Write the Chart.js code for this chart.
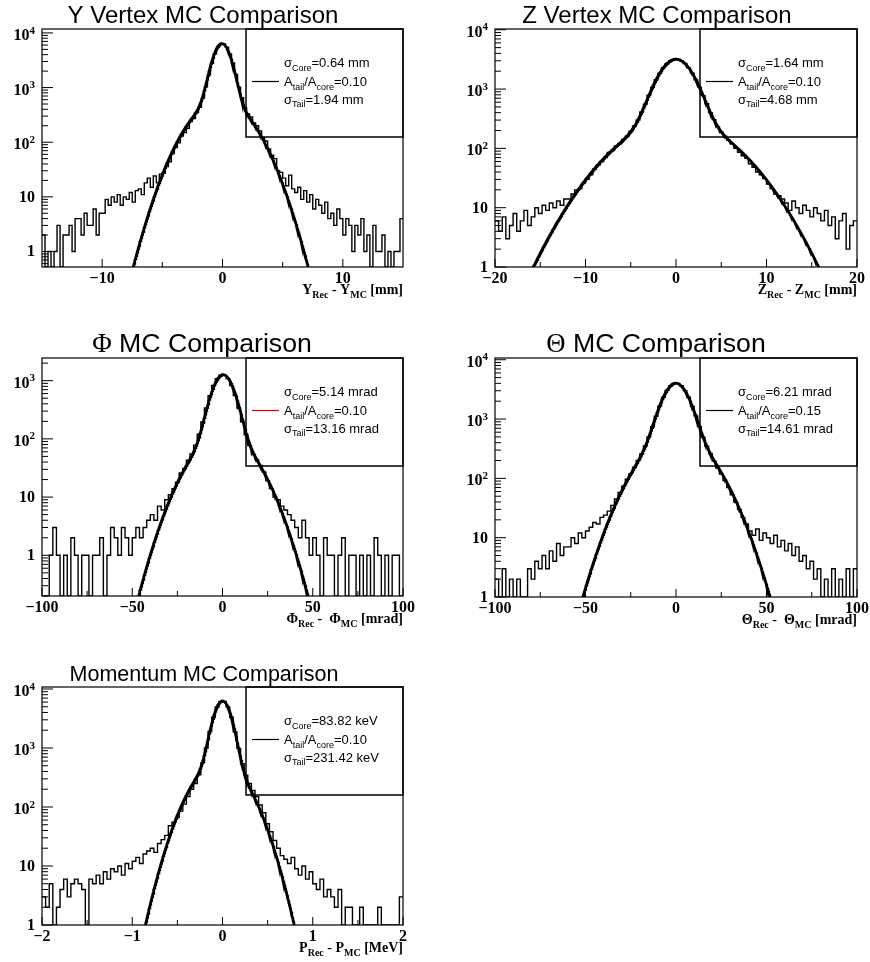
<!DOCTYPE html>
<html lang="en">
<head>
<meta charset="UTF-8">
<title>MC Comparison</title>
<script src="https://cdn.jsdelivr.net/npm/chart.js@4"></script>
<style>
  body { margin: 0; background: #fff; }
  #wrap { position: relative; width: 870px; height: 962px; }
  #wrap canvas { position: absolute; }
</style>
</head>
<body>
<div id="wrap">
  <canvas id="cY" width="435" height="320" style="left:0;top:0"></canvas>
  <canvas id="cZ" width="435" height="320" style="left:435px;top:0"></canvas>
  <canvas id="cPhi" width="435" height="320" style="left:0;top:320px"></canvas>
  <canvas id="cTheta" width="435" height="320" style="left:435px;top:320px"></canvas>
  <canvas id="cP" width="435" height="322" style="left:0;top:640px"></canvas>
</div>
<script>
// residual histograms (counts per bin), bins run left to right over [xLow, xHigh]
// Y vertex: 120 bins of 0.25 mm
const yVtxCounts = [
  2, 0, 1, 0,   1, 3, 0, 2,   2, 3, 1, 4,   4, 2, 5, 3,   3, 6, 2, 5,
  5, 9, 7, 10,  8, 11, 7, 10, 9, 12, 8, 13, 14, 11, 18, 22, 15, 24, 18, 26,
  27, 36, 44, 62, 80, 98, 130, 150, 180, 240, 270, 350, 440, 640, 1030, 1720, 2790, 4170, 5440, 6250,
  6280, 5470, 4130, 2810, 1740, 1020, 650, 430, 330, 290, 225, 200, 160, 120, 105, 75, 58, 50, 30, 28,
  22, 16, 25, 14, 12, 15, 9, 13, 8, 11, 6, 9,  7, 5, 8, 4,  5, 3, 6, 4,
  2, 4, 3, 1,   3, 2, 4, 1,   2, 0, 3, 1,   1, 2, 0, 1,   0, 1, 1, 4
];
// Z vertex: 100 bins of 0.4 mm
const zVtxCounts = [
  6, 4, 7, 3, 5, 8, 4, 6, 9, 5,
  7, 10, 8, 11, 9, 12, 10, 13, 11, 14,
  14, 17, 20, 21, 26, 30, 36, 45, 52, 60,
  70, 85, 92, 110, 120, 142, 160, 195, 240, 300,
  410, 555, 790, 1070, 1445, 1850, 2300, 2680, 3010, 3160,
  3170, 2990, 2700, 2280, 1860, 1430, 1080, 775, 565, 400,
  305, 232, 188, 160, 138, 118, 100, 86, 75, 68,
  55, 48, 40, 36, 31, 25, 21, 17, 16, 14,
  12, 9, 13, 10, 8, 11, 9, 7, 10, 8,
  6, 9, 5, 7, 3, 6, 8, 2, 5, 6
];
// Phi: 100 bins of 2 mrad
const phiCounts = [
  0, 0, 1, 3, 1,  0, 1, 0, 2, 1,  0, 1, 1, 0, 1,  1, 2, 0, 1, 3,
  2, 1, 3, 2, 1,  2, 3, 2, 3, 4,  5, 4, 7, 6, 9,  11, 14, 18, 26, 31,
  43, 55, 78, 120, 195,  340, 552, 826, 1080, 1240,
  1245, 1085, 820, 556, 338,  197, 118, 77, 54, 44,
  35, 27, 19, 14, 10,  9, 7, 6, 5, 4,  3, 2, 4, 2, 1,  2, 1, 0, 2, 1,
  1, 0, 1, 2, 0,  1, 1, 0, 1, 0,  1, 0, 2, 1, 0,  1, 0, 1, 1, 0
];
// Theta: 100 bins of 2 mrad
const thetaCounts = [
  2, 0, 3, 1, 2,  0, 2, 1, 0, 3,  2, 4, 3, 5, 3,  6, 4, 8, 5, 7,
  7, 10, 8, 12, 10,  13, 15, 18, 17, 22,  24, 28, 35, 45, 58,  74, 97, 120, 155, 200,
  258, 352, 500, 740, 1120,  1660, 2320, 3030, 3620, 3990,
  3970, 3640, 3020, 2330, 1650,  1130, 745, 495, 348, 262,
  195, 150, 118, 92, 70,  53, 40, 30, 22, 17,  13, 11, 14, 9, 12,  10, 8, 11, 7, 9,
  6, 8, 5, 7, 4,  5, 3, 4, 2, 3,  1, 2, 0, 3, 1,  2, 1, 3, 0, 3
];
// Momentum: 100 bins of 0.04 MeV
const momCounts = [
  3, 2, 5, 0, 2,  4, 6, 3, 5, 6,  5, 4, 0, 6, 5,  7, 5, 8, 6, 9,
  8, 10, 7, 11, 9,  12, 14, 11, 16, 18,  20, 17, 24, 28, 33,  48, 55, 66, 85, 112,
  150, 200, 250, 350, 560,  1000, 1900, 3310, 4950, 6080,
  6120, 4970, 3290, 1870, 985,  540, 345, 250, 190, 150,
  108, 80, 52, 38, 27,  20, 15, 13, 11, 14,  9, 7, 10, 6, 8,  5, 4, 6, 3, 4,
  3, 2, 4, 1, 2,  2, 1, 0, 2, 1,  1, 0, 1, 2, 0,  1, 0, 0, 1, 3
];

const histCounts = [yVtxCounts, zVtxCounts, phiCounts, thetaCounts, momCounts];
const xLow  = [-15, -20, -100, -100, -2];
const xHigh = [15, 20, 100, 100, 2];
const yMin  = [0.52, 1, 0.2, 1, 1];
const yMax  = [11800, 10300, 2450, 10700, 10800];

// double gaussian fit results
const sigmaCore = [0.64, 1.64, 5.14, 6.21, 83.82];
const tailRatio = [0.10, 0.10, 0.10, 0.15, 0.10];
const sigmaTail = [1.94, 4.68, 13.16, 14.61, 231.42];
const sigmaUnit = ['mm', 'mm', 'mrad', 'mrad', 'keV'];
const unitToAxis = [1, 1, 1, 1, 0.001];
const fitAmp  = [5800, 2900, 1150, 3500, 5700];
const coreMean = [-0.05, 0, 0.4, -0.1, 0];
const tailMean = [-0.15, 0, 0.45, 0.25, -0.03];

const xMajor = [[-10, 0, 10], [-20, -10, 0, 10, 20], [-100, -50, 0, 50, 100], [-100, -50, 0, 50, 100], [-2, -1, 0, 1, 2]];
const xMinor = [[-5, 5], [-15, -5, 5, 15], [-75, -25, 25, 75], [-75, -25, 25, 75], [-1.5, -0.5, 0.5, 1.5]];

const titles = [
  [['Y Vertex MC Comparison', '']],
  [['Z Vertex MC Comparison', '']],
  [['Φ', '', 'serif'], [' MC Comparison', '']],
  [['Θ', '', 'serif'], [' MC Comparison', '']],
  [['Momentum MC Comparison', '']]
];
const axisTitles = [
  [['Y', ''], ['Rec', 'sub'], [' - Y', ''], ['MC', 'sub'], [' [mm]', '']],
  [['Z', ''], ['Rec', 'sub'], [' - Z', ''], ['MC', 'sub'], [' [mm]', '']],
  [['Φ', ''], ['Rec', 'sub'], [' -  Φ', ''], ['MC', 'sub'], [' [mrad]', '']],
  [['Θ', ''], ['Rec', 'sub'], [' -  Θ', ''], ['MC', 'sub'], [' [mrad]', '']],
  [['P', ''], ['Rec', 'sub'], [' - P', ''], ['MC', 'sub'], [' [MeV]', '']]
];
const legendLineColor = ['#000', '#000', '#e00000', '#000', '#000'];

const SANS = '"Liberation Sans", Arial, Helvetica, sans-serif';
const SERIF = '"Liberation Serif", "Times New Roman", serif';

// pad geometry: frame left/top/right/bottom inside each canvas, legend box left, title anchor
const pads = [
  { id: 'cY',     frame: [42, 29, 403, 267], legLeft: 246, titleX: 203, titleY: 23, titleSize: 24 },
  { id: 'cZ',     frame: [60, 29, 422, 267], legLeft: 265, titleX: 222, titleY: 23, titleSize: 24 },
  { id: 'cPhi',   frame: [42, 38, 403, 276], legLeft: 246, titleX: 202, titleY: 32, titleSize: 26.7 },
  { id: 'cTheta', frame: [60, 38, 422, 277], legLeft: 265, titleX: 221, titleY: 32, titleSize: 26.7 },
  { id: 'cP',     frame: [42, 47, 403, 285], legLeft: 246, titleX: 204, titleY: 41, titleSize: 21.5 }
];

// empty bins sit on the frame bottom of the log axis
function histPoints(counts, lo, hi, floor) {
  const w = (hi - lo) / counts.length;
  const pts = counts.map((c, k) => ({ x: lo + k * w, y: c > 0 ? c : floor }));
  pts.push({ x: hi, y: pts[pts.length - 1].y });
  return pts;
}

function fitPoints(i) {
  const sc = sigmaCore[i] * unitToAxis[i];
  const st = sigmaTail[i] * unitToAxis[i];
  const n = 800, pts = [];
  for (let k = 0; k <= n; k++) {
    const x = xLow[i] + (xHigh[i] - xLow[i]) * k / n;
    const dc = x - coreMean[i], dt = x - tailMean[i];
    const y = fitAmp[i] * (Math.exp(-dc * dc / (2 * sc * sc)) + tailRatio[i] * Math.exp(-dt * dt / (2 * st * st)));
    pts.push({ x, y: Math.max(y, 1e-6) });
  }
  return pts;
}

// text with sub/superscripts, y is the main baseline
function drawRich(ctx, x, y, segs, size, family, weight, align) {
  const parts = segs.map(s => {
    const fs = s[1] ? Math.round(size * 0.7) : size;
    const fam = s[2] === 'serif' ? SERIF : family;
    ctx.font = `${weight} ${fs}px ${fam}`;
    return { t: s[0], k: s[1], fs, fam, w: ctx.measureText(s[0]).width };
  });
  const total = parts.reduce((a, p) => a + p.w, 0);
  let cx = align === 'right' ? x - total : align === 'center' ? x - total / 2 : x;
  ctx.textAlign = 'left';
  ctx.textBaseline = 'alphabetic';
  for (const p of parts) {
    ctx.font = `${weight} ${p.fs}px ${p.fam}`;
    const dy = p.k === 'sub' ? size * 0.3 : p.k === 'sup' ? -size * 0.4 : 0;
    ctx.fillText(p.t, cx, y + dy);
    cx += p.w;
  }
}

function fmtTick(v) {
  return v < 0 ? '\u2212' + Math.abs(v) : String(v);
}

const rootStyle = {
  id: 'rootStyle',
  afterDatasetsDraw(chart, args, opts) {
    const i = opts.i;
    const pad = pads[i];
    const ctx = chart.ctx;
    const xs = chart.scales.x, ys = chart.scales.y;
    const L = chart.chartArea.left, T = chart.chartArea.top;
    const R = chart.chartArea.right, B = chart.chartArea.bottom;
    ctx.save();
    ctx.fillStyle = '#000';
    ctx.strokeStyle = '#000';

    // frame
    ctx.lineWidth = 1.2;
    ctx.strokeRect(L, T, R - L, B - T);

    // log y ticks on the left axis, pointing inward
    ctx.lineWidth = 1;
    ctx.beginPath();
    const e0 = Math.floor(Math.log10(yMin[i])), e1 = Math.ceil(Math.log10(yMax[i]));
    for (let e = e0; e <= e1; e++) {
      for (let m = 1; m <= 9; m++) {
        const v = m * Math.pow(10, e);
        if (v < yMin[i] * 0.999 || v > yMax[i]) continue;
        const py = ys.getPixelForValue(v);
        ctx.moveTo(L, py);
        ctx.lineTo(L + (m === 1 ? 11 : 6), py);
      }
    }
    // x ticks pointing up
    xMajor[i].forEach(v => { const px = xs.getPixelForValue(v); ctx.moveTo(px, B); ctx.lineTo(px, B - 8); });
    xMinor[i].forEach(v => { const px = xs.getPixelForValue(v); ctx.moveTo(px, B); ctx.lineTo(px, B - 5); });
    ctx.stroke();

    // y labels (decades)
    for (let e = Math.max(e0, 0); e <= e1; e++) {
      const v = Math.pow(10, e);
      if (v < yMin[i] * 0.999 || v > yMax[i]) continue;
      const py = ys.getPixelForValue(v);
      if (e === 0) drawRich(ctx, L - 7, py + 5, [['1', '']], 16, SERIF, 'bold', 'right');
      else if (e === 1) drawRich(ctx, L - 7, py + 5, [['10', '']], 16, SERIF, 'bold', 'right');
      else drawRich(ctx, L - 7, py + 7, [['10', ''], [String(e), 'sup']], 16, SERIF, 'bold', 'right');
    }
    // x labels
    xMajor[i].forEach(v => {
      drawRich(ctx, xs.getPixelForValue(v), B + 16, [[fmtTick(v), '']], 16, SERIF, 'bold', 'center');
    });

    // axis title
    drawRich(ctx, R, B + 27, axisTitles[i], 14, SERIF, 'bold', 'right');

    // pad title
    drawRich(ctx, pad.titleX, pad.titleY, titles[i], pad.titleSize, SANS, 'normal', 'center');

    // fit legend box (transparent)
    const lx = pad.legLeft;
    ctx.lineWidth = 1.5;
    ctx.strokeRect(lx, T, R - lx, 108);
    ctx.strokeStyle = legendLineColor[i];
    ctx.lineWidth = 1.2;
    ctx.beginPath();
    ctx.moveTo(lx + 6, T + 52.5);
    ctx.lineTo(lx + 33, T + 52.5);
    ctx.stroke();
    const tx = lx + 38;
    const u = sigmaUnit[i];
    drawRich(ctx, tx, T + 38, [['σ', ''], ['Core', 'sub'], ['=' + sigmaCore[i].toFixed(2) + ' ' + u, '']], 13, SANS, 'normal', 'left');
    drawRich(ctx, tx, T + 57, [['A', ''], ['tail', 'sub'], ['/A', ''], ['core', 'sub'], ['=' + tailRatio[i].toFixed(2), '']], 13, SANS, 'normal', 'left');
    drawRich(ctx, tx, T + 74.5, [['σ', ''], ['Tail', 'sub'], ['=' + sigmaTail[i].toFixed(2) + ' ' + u, '']], 13, SANS, 'normal', 'left');
    ctx.restore();
  }
};

pads.forEach((pad, i) => {
  const canvas = document.getElementById(pad.id);
  const [L, T, R, B] = pad.frame;
  new Chart(canvas, {
    type: 'line',
    data: {
      datasets: [
        { data: fitPoints(i), borderColor: '#000', borderWidth: 2.8, pointRadius: 0, tension: 0 },
        { data: histPoints(histCounts[i], xLow[i], xHigh[i], yMin[i]), stepped: true, borderColor: '#000', borderWidth: 1.4, pointRadius: 0 }
      ]
    },
    options: {
      responsive: false,
      animation: false,
      events: [],
      layout: { padding: { left: L, top: T, right: canvas.width - R, bottom: canvas.height - B } },
      scales: {
        x: { type: 'linear', min: xLow[i], max: xHigh[i], display: false },
        y: { type: 'logarithmic', min: yMin[i], max: yMax[i], display: false }
      },
      plugins: { legend: { display: false }, tooltip: { enabled: false }, rootStyle: { i } }
    },
    plugins: [rootStyle]
  });
});
</script>
</body>
</html>
